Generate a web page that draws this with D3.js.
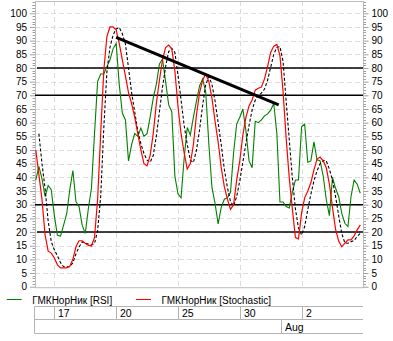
<!DOCTYPE html>
<html><head><meta charset="utf-8">
<script src="https://cdn.jsdelivr.net/npm/d3@7"></script>
<style>
html,body{margin:0;padding:0;background:#fff;}
svg{display:block;font-family:"Liberation Sans",Arial,sans-serif;}
</style></head><body>
<svg id="c" width="393" height="341"></svg>
<script>
// ---- data ----
const rsi = [39,44,39.5,33,37,35.5,26,18.8,18.5,22.5,26.7,35.5,42.5,31.1,29.3,22.5,19.5,28.5,36,56,
75,77.8,77.8,80.5,83,87,89,74,63.5,61,46,52,56,55,58,55,56,62,69,74,
81.5,83.3,75,66.5,64,40.5,34,32.5,47,58.2,55.5,62,68,73.5,76,71,52,36.3,30.5,23,
29,32,32.5,34.5,49,59.5,62,65,57,46,43.5,60.5,60,61,62.5,63.2,64.6,67,56,31,
31,29.3,28.8,34.5,39,39,58.5,59.5,45.5,46,53,46.4,46,40.5,31.8,26,40,36,33,26.8,
23.2,22,33,39,37.5,34.2];
const stoch = [50,41,32,19,13,12.3,10.5,8,6.9,6.9,6.9,7.5,10,14.6,16.8,16.8,15.9,15.1,14.9,18,
32,56,79,91.5,95,95,94,89,83,77,71,67,62,56,50,45,44.2,48,56,67,
75.5,83,87.5,88.4,87,79,66,56,49,43,45,52,63,71,75.6,77.8,75,69,60.5,53,
43.5,36.6,32,28.3,30,39,46,55.5,62,66.1,68.3,71.9,72.6,73,76,80.5,85.7,88,88.6,84.5,
71.5,54.5,40,28.6,18,17.5,27,32.5,35,38,42.7,46.7,47.4,46,43.5,37.5,29,21,16.7,14.6,
15.9,17.1,17.1,18.6,20.8,22.6];
const signal = [null,56,45,36,24,16.5,13.5,11.3,8.8,7.3,7.3,7.3,8.8,12,14.5,16.4,16,15.6,15.3,15.8,
20.5,33,58,78.5,87.5,92,94.3,94.8,92.5,88.8,80,71,64,57,52.3,48.7,46.3,45.5,48,55,
64,73,80.5,86,87.2,85.7,77.5,68.3,59,52,46.3,45.4,50,57.5,66.5,74,76.8,74,68,60,
52,43,36.3,31.2,29.5,33,38.7,45.6,52.5,59,64.7,68.2,70,70.8,72.3,75.5,80.3,85,87.5,87.8,
82.5,68,54,40,28.5,21.5,19,22,28.2,33.8,38.7,42.4,45,46.2,46,43,39,33,26,19.5,
16,15.9,16.4,16.9,18.4,19.5];
const trendIdx = [26, 78.6];
const trendVal = [91.2, 66.5];
const levels = [80, 70, 30, 20];
const dayLabels = ["17","20","25","30","2"];
const dayIdx = [6, 26, 46, 66, 86];
const monthLabels = ["Aug"];
const monthIdx = [79.4];
const legendNames = ["ГМКНорНик [RSI]", "ГМКНорНик [Stochastic]"];

// ---- layout ----
const L = 35, R = 363, T = 1, B = 287.7;
const svg = d3.select("#c");
const x = d3.scaleLinear().domain([0, 105]).range([35.8, 360.3]);
const y = d3.scaleLinear().domain([0, 100]).range([286.7, 13.3]);

// grid horizontal
const gridVals = d3.range(5, 105, 5);
svg.append("g").selectAll("line").data(gridVals).join("line")
  .attr("x1", L).attr("x2", R)
  .attr("y1", d => Math.round(y(d)) + 0.5).attr("y2", d => Math.round(y(d)) + 0.5)
  .attr("stroke", "#dcdcdc").attr("stroke-dasharray", "5,3");
// grid vertical
svg.append("g").selectAll("line").data(dayIdx).join("line")
  .attr("x1", d => Math.round(x(d)) + 0.5).attr("x2", d => Math.round(x(d)) + 0.5)
  .attr("y1", T).attr("y2", B)
  .attr("stroke", "#dcdcdc").attr("stroke-dasharray", "5,3");

// plot frame
svg.append("rect").attr("x", L + 0.5).attr("y", T + 0.5).attr("width", R - L).attr("height", B - T - 0.5)
  .attr("fill", "none").attr("stroke", "#bdbdbd");

// axes
function yAxis(g, left) {
  const minor = d3.range(0, 105, 1).filter(v => v % 5 !== 0);
  const ax = (left ? d3.axisLeft(y) : d3.axisRight(y)).tickValues(d3.range(0, 105, 5)).tickSize(5).tickPadding(3).tickFormat(d3.format("d"));
  g.call(ax);
  g.select(".domain").remove();
  g.selectAll(".tick line").attr("stroke", "#a0a0a0");
  g.selectAll(".tick text").attr("fill", "#000").style("font-size", "10px");
  g.selectAll("line.minor").data(minor.concat([101,102,103])).join("line").attr("class", "minor")
    .attr("x1", 0).attr("x2", left ? -2.5 : 2.5)
    .attr("y1", d => Math.round(y(d)) + 0.5).attr("y2", d => Math.round(y(d)) + 0.5)
    .attr("stroke", "#a0a0a0");
}
svg.append("g").attr("transform", `translate(${L},0)`).call(g => yAxis(g, true));
svg.append("g").attr("transform", `translate(${R + 0.5},0)`).call(g => yAxis(g, false));

// level lines
svg.append("g").selectAll("line").data(levels).join("line")
  .attr("x1", (d, i) => (i % 3 === 0 ? L + 2 : L)).attr("x2", R)
  .attr("y1", d => y(d)).attr("y2", d => y(d))
  .attr("stroke", "#000").attr("stroke-width", 1.4);

// series
const line = d3.line().defined(d => d != null).x((d, i) => x(i)).y(d => y(d));
svg.append("path").datum(rsi).attr("d", line).attr("fill", "none").attr("stroke", "#008000").attr("stroke-width", 1.1);
svg.append("path").datum(signal).attr("d", line).attr("fill", "none").attr("stroke", "#000").attr("stroke-width", 1.1).attr("stroke-dasharray", "3,2");
svg.append("path").datum(stoch).attr("d", line).attr("fill", "none").attr("stroke", "#ff0000").attr("stroke-width", 1.2);

// trend line
svg.append("line")
  .attr("x1", x(trendIdx[0])).attr("y1", y(trendVal[0]))
  .attr("x2", x(trendIdx[1])).attr("y2", y(trendVal[1]))
  .attr("stroke", "#000").attr("stroke-width", 3);

// legend
const lg = svg.append("g");
const legColors = ["#008000", "#ff0000"];
const legX = [6.7, 136];
legendNames.forEach((n, i) => {
  lg.append("line").attr("x1", legX[i]).attr("x2", legX[i] + 15).attr("y1", 299.5).attr("y2", 299.5)
    .attr("stroke", legColors[i]).attr("stroke-width", 1);
  lg.append("text").attr("x", legX[i] + 25.6).attr("y", 303.5).text(n).style("font-size", "10px");
});

// date axis table
const dt = svg.append("g").attr("stroke", "#b4b4b4").attr("fill", "none");
const r1 = 306.5, r2 = 319.5, r3 = 333.5, tl = 34.5, tr = 363;
[r1, r2, r3].forEach(v => dt.append("line").attr("x1", tl).attr("x2", tr).attr("y1", v).attr("y2", v));
dt.append("line").attr("x1", tl).attr("x2", tl).attr("y1", r1).attr("y2", r3);
dt.selectAll("line.d").data(dayIdx).join("line").attr("class", "d")
  .attr("x1", d => Math.round(x(d)) + 0.5).attr("x2", d => Math.round(x(d)) + 0.5).attr("y1", r1).attr("y2", r2);
dt.selectAll("line.m").data(monthIdx).join("line").attr("class", "m")
  .attr("x1", d => Math.round(x(d)) + 0.5).attr("x2", d => Math.round(x(d)) + 0.5).attr("y1", r2).attr("y2", r3);
svg.append("g").selectAll("text").data(dayLabels).join("text")
  .attr("x", (d, i) => Math.round(x(dayIdx[i])) + 4).attr("y", 316.5).text(d => d).style("font-size", "10.5px");
svg.append("g").selectAll("text").data(monthLabels).join("text")
  .attr("x", (d, i) => Math.round(x(monthIdx[i])) + 4).attr("y", 330.5).text(d => d).style("font-size", "10.5px");
</script>
</body></html>
